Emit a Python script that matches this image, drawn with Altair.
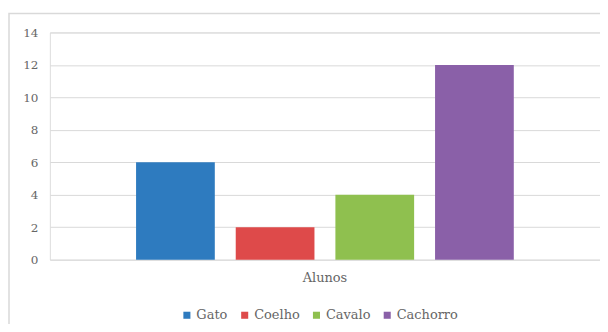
import altair as alt
import pandas as pd

categories = ["Alunos"]
series = ["Gato", "Coelho", "Cavalo", "Cachorro"]
values = [6, 2, 4, 12]
colors = ["#2e7bbf", "#de4a4a", "#8fc04f", "#8a60a8"]

df = pd.DataFrame({
    "cat": [categories[0]] * len(series),
    "serie": series,
    "valor": values,
})

W, H = 552, 228
FONT = "DejaVu Serif"

frame = alt.Chart(pd.DataFrame({"a": [0]})).mark_rect(
    fillOpacity=0, stroke="#d9d9d9", strokeWidth=1.5
).encode(
    x=alt.value(-41), x2=alt.value(W + 20),
    y=alt.value(-19), y2=alt.value(H + 90),
)

bars = alt.Chart(df).mark_bar().encode(
    x=alt.X("cat:N", title=None,
            scale=alt.Scale(paddingInner=0, paddingOuter=0.19),
            axis=alt.Axis(labelAngle=0, ticks=False, domain=False,
                          labelPadding=12, labelFontSize=13,
                          labelColor="#666666", labelFont=FONT)),
    xOffset=alt.XOffset("serie:N", sort=series,
                        scale=alt.Scale(paddingInner=0.21, paddingOuter=0.105)),
    y=alt.Y("valor:Q", title=None,
            scale=alt.Scale(domain=[0, 14]),
            axis=alt.Axis(values=[0, 2, 4, 6, 8, 10, 12, 14], domain=False,
                          ticks=False, labelPadding=12, labelFontSize=12,
                          labelColor="#666666", labelFont=FONT,
                          gridColor="#d9d9d9", gridWidth=1)),
    color=alt.Color("serie:N", sort=series,
                    scale=alt.Scale(domain=series, range=colors),
                    legend=alt.Legend(title=None, orient="none",
                                      direction="horizontal",
                                      legendX=131, legendY=277,
                                      symbolType="square", symbolSize=50,
                                      symbolStrokeWidth=0,
                                      labelFontSize=13, labelColor="#666666",
                                      labelFont=FONT, columnPadding=10,
                                      labelOffset=3)),
)

chart = alt.layer(frame, bars).properties(
    width=W, height=H,
    autosize=alt.AutoSizeParams(type="none"),
    padding={"left": 42, "top": 24, "right": 0, "bottom": 64},
).configure_view(stroke=None).configure(background="white")

chart.save("out.html", embed_options={"renderer": "svg", "actions": False})
